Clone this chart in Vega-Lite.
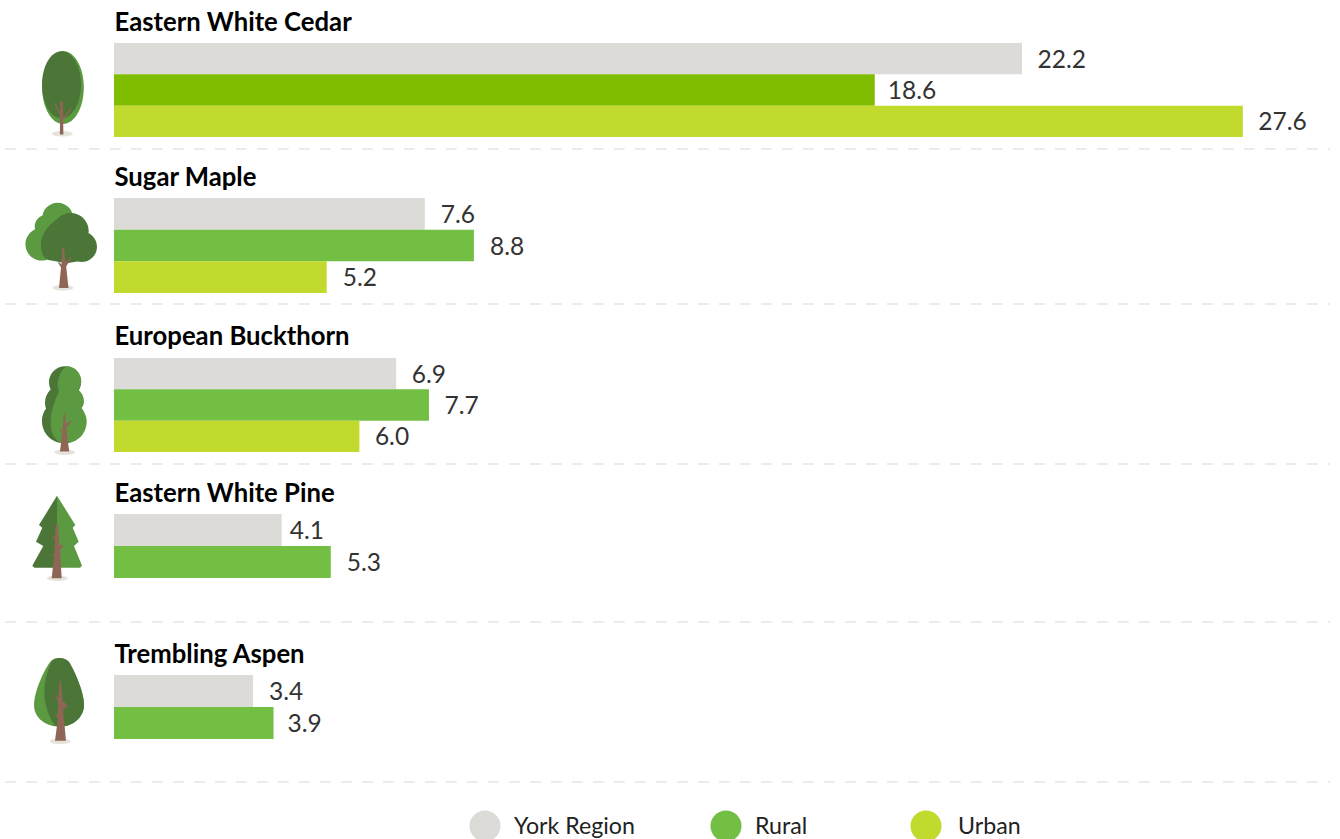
{"$schema":"https://vega.github.io/schema/vega-lite/v6.json","padding":0,"bounds":"flush","spacing":0,"background":"white",
"resolve":{"scale":{"color":"independent"}},
"config":{"view":{"stroke":null},"axis":{"disable":true},"legend":{"disable":true},"text":{"font":"Lato"}},
"datasets":{"bars":[
{"species":"Eastern White Cedar","series":"York Region","value":22.2},{"species":"Eastern White Cedar","series":"Rural","value":18.6},{"species":"Eastern White Cedar","series":"Urban","value":27.6},
{"species":"Sugar Maple","series":"York Region","value":7.6},{"species":"Sugar Maple","series":"Rural","value":8.8},{"species":"Sugar Maple","series":"Urban","value":5.2},
{"species":"European Buckthorn","series":"York Region","value":6.9},{"species":"European Buckthorn","series":"Rural","value":7.7},{"species":"European Buckthorn","series":"Urban","value":6.0},
{"species":"Eastern White Pine","series":"York Region","value":4.1},{"species":"Eastern White Pine","series":"Rural","value":5.3},
{"species":"Trembling Aspen","series":"York Region","value":3.4},{"species":"Trembling Aspen","series":"Rural","value":3.9}],
"legend":[{"series":"York Region"},{"series":"Rural"},{"series":"Urban"}]},
"vconcat":[
{"width":1340,"height":149,"data":{"name":"bars"},"transform":[{"filter":"datum.species=='Eastern White Cedar'"}],
"encoding":{"y":{"field":"series","type":"nominal","scale":{"type":"band","domain":["header","York Region","Rural","Urban","sep"],"range":[11.67,168.33],"paddingInner":0,"paddingOuter":0,"round":false},"sort":null}},
"layer":[
{"mark":{"type":"bar"},"encoding":{"x":{"field":"value","type":"quantitative","scale":{"domain":[-2.7873,29.9756],"nice":false,"zero":false}},"color":{"field":"series","type":"nominal","scale":{"domain":["York Region","Rural","Urban"],"range":["#dcdbd8","#80bc00","#c2d92e"]}}}},
{"transform":[{"filter":"datum.series!='Rural'"}],"mark":{"type":"text","align":"left","baseline":"middle","dx":15.5,"dy":2,"fontSize":24.5,"fill":"#333333"},"encoding":{"x":{"field":"value","type":"quantitative"},"text":{"field":"value","type":"quantitative","format":".1f"}}},
{"transform":[{"filter":"datum.series=='Rural'"}],"mark":{"type":"text","align":"left","baseline":"middle","dx":13,"dy":2,"fontSize":24.5,"fill":"#333333"},"encoding":{"x":{"field":"value","type":"quantitative"},"text":{"field":"value","type":"quantitative","format":".1f"}}},
{"transform":[{"filter":"datum.series=='York Region'"}],"mark":{"type":"text","align":"left","baseline":"middle","dx":0.5,"yOffset":-4,"fontSize":25.7,"fontWeight":"bold","fill":"#000000"},"encoding":{"x":{"datum":0,"type":"quantitative"},"y":{"datum":"header","type":"nominal"},"text":{"field":"species"}}},
{"transform":[{"filter":"datum.series=='York Region'"}],"mark":{"type":"rule","stroke":"#d9d8d4","strokeWidth":1.2,"strokeDash":[10.7,10.3],"yOffset":-3.67},"encoding":{"x":{"datum":-2.665,"type":"quantitative"},"x2":{"datum":29.73},"y":{"datum":"sep","type":"nominal"}}},
{"transform":[{"filter":"datum.series=='Rural'"}],"mark":{"type":"point","filled":true,"size":4,"opacity":1,"strokeWidth":0,"fill":"#e5e3dc","shape":"M-11.2,43.7a10.5,2.7 0 1 0 21,0a10.5,2.7 0 1 0 -21,0Z"},"encoding":{"x":{"datum":-1.247,"type":"quantitative"},"y":{"datum":"Rural","type":"nominal"}}},
{"transform":[{"filter":"datum.series=='Rural'"}],"mark":{"type":"point","filled":true,"size":4,"opacity":1,"strokeWidth":0,"fill":"#5b9a41","shape":"M-20.8,-2.5A20.8,36.5 0 1 1 20.8,-2.5A20.8,36.5 0 1 1 -20.8,-2.5Z"},"encoding":{"x":{"datum":-1.247,"type":"quantitative"},"y":{"datum":"Rural","type":"nominal"}}},
{"transform":[{"filter":"datum.series=='Rural'"}],"mark":{"type":"point","filled":true,"size":4,"opacity":1,"strokeWidth":0,"fill":"#4b7638","shape":"M-21,-5.3A19.5,33.5 0 1 1 18,-5.3A19.5,33.5 0 1 1 -21,-5.3Z"},"encoding":{"x":{"datum":-1.247,"type":"quantitative"},"y":{"datum":"Rural","type":"nominal"}}},
{"transform":[{"filter":"datum.series=='Rural'"}],"mark":{"type":"point","filled":true,"size":4,"opacity":1,"strokeWidth":0,"fill":"#8f6555","shape":"M-2.8,11L-0.1,11L0.4,44.5L-3.1,44.5ZM-2.5,26.5L-9,13.3L-8,12.5L-2.5,23.5ZM-0.3,27.5L7.7,18.3L8.8,19.1L-0.3,30.5Z"},"encoding":{"x":{"datum":-1.247,"type":"quantitative"},"y":{"datum":"Rural","type":"nominal"}}}
]},
{"width":1340,"height":155,"data":{"name":"bars"},"transform":[{"filter":"datum.species=='Sugar Maple'"}],
"encoding":{"y":{"field":"series","type":"nominal","scale":{"type":"band","domain":["header","York Region","Rural","Urban","sep"],"range":[17.33,175.67],"paddingInner":0,"paddingOuter":0,"round":false},"sort":null}},
"layer":[
{"mark":{"type":"bar"},"encoding":{"x":{"field":"value","type":"quantitative","scale":{"domain":[-2.7873,29.9756],"nice":false,"zero":false}},"color":{"field":"series","type":"nominal","scale":{"domain":["York Region","Rural","Urban"],"range":["#dcdbd8","#72bf44","#c2d92e"]}}}},
{"mark":{"type":"text","align":"left","baseline":"middle","dx":16,"dy":2,"fontSize":24.5,"fill":"#333333"},"encoding":{"x":{"field":"value","type":"quantitative"},"text":{"field":"value","type":"quantitative","format":".1f"}}},
{"transform":[{"filter":"datum.series=='York Region'"}],"mark":{"type":"text","align":"left","baseline":"middle","dx":0.5,"yOffset":-4,"fontSize":25.7,"fontWeight":"bold","fill":"#000000"},"encoding":{"x":{"datum":0,"type":"quantitative"},"y":{"datum":"header","type":"nominal"},"text":{"field":"species"}}},
{"transform":[{"filter":"datum.series=='York Region'"}],"mark":{"type":"rule","stroke":"#d9d8d4","strokeWidth":1.2,"strokeDash":[10.7,10.3],"yOffset":-4.83},"encoding":{"x":{"datum":-2.665,"type":"quantitative"},"x2":{"datum":29.73},"y":{"datum":"sep","type":"nominal"}}},
{"transform":[{"filter":"datum.series=='Rural'"}],"mark":{"type":"point","filled":true,"size":4,"opacity":1,"strokeWidth":0,"fill":"#e5e3dc","shape":"M-10.5,42.2a10.5,2.8 0 1 0 21,0a10.5,2.8 0 1 0 -21,0Z"},"encoding":{"x":{"datum":-1.247,"type":"quantitative"},"y":{"datum":"Rural","type":"nominal"}}},
{"transform":[{"filter":"datum.series=='Rural'"}],"mark":{"type":"point","filled":true,"size":4,"opacity":1,"strokeWidth":0,"fill":"#5b9a41","shape":"M-20.8,-27.2a15.5,15.5 0 1 1 31,0a15.5,15.5 0 1 1 -31,0ZM-28.3,-18.8a12,12 0 1 1 24,0a12,12 0 1 1 -24,0ZM-37.6,-1.2a16.3,16.3 0 1 1 32.6,0a16.3,16.3 0 1 1 -32.6,0ZM-23,-5a18,18 0 1 1 36,0a18,18 0 1 1 -36,0Z"},"encoding":{"x":{"datum":-1.247,"type":"quantitative"},"y":{"datum":"Rural","type":"nominal"}}},
{"transform":[{"filter":"datum.series=='Rural'"}],"mark":{"type":"point","filled":true,"size":4,"opacity":1,"strokeWidth":0,"fill":"#4b7638","shape":"M-10.3,-14.5a18,18 0 1 1 36,0a18,18 0 1 1 -36,0ZM3.4,1.2a15.3,15.3 0 1 1 30.6,0a15.3,15.3 0 1 1 -30.6,0ZM6,-32L20,-10L20,15L3.7,17.8L-14.7,14.5C-19,13 -21.5,8 -22,1.2C-23,-12 -12,-26 6,-32Z"},"encoding":{"x":{"datum":-1.247,"type":"quantitative"},"y":{"datum":"Rural","type":"nominal"}}},
{"transform":[{"filter":"datum.series=='Rural'"}],"mark":{"type":"point","filled":true,"size":4,"opacity":1,"strokeWidth":0,"fill":"#8f6555","shape":"M-0.7,2L1,2L2.6,17L8,11L8.8,12L3.2,21L5.5,42.5L-4,42.5L-2,22L-5,17L-4,16.5L-1.6,19Z"},"encoding":{"x":{"datum":-1.247,"type":"quantitative"},"y":{"datum":"Rural","type":"nominal"}}}
]},
{"width":1340,"height":160,"data":{"name":"bars"},"transform":[{"filter":"datum.species=='European Buckthorn'"}],
"encoding":{"y":{"field":"series","type":"nominal","scale":{"type":"band","domain":["header","York Region","Rural","Urban","sep"],"range":[22.67,179.33],"paddingInner":0,"paddingOuter":0,"round":false},"sort":null}},
"layer":[
{"mark":{"type":"bar"},"encoding":{"x":{"field":"value","type":"quantitative","scale":{"domain":[-2.7873,29.9756],"nice":false,"zero":false}},"color":{"field":"series","type":"nominal","scale":{"domain":["York Region","Rural","Urban"],"range":["#dcdbd8","#72bf44","#c2d92e"]}}}},
{"mark":{"type":"text","align":"left","baseline":"middle","dx":15.5,"dy":2,"fontSize":24.5,"fill":"#333333"},"encoding":{"x":{"field":"value","type":"quantitative"},"text":{"field":"value","type":"quantitative","format":".1f"}}},
{"transform":[{"filter":"datum.series=='York Region'"}],"mark":{"type":"text","align":"left","baseline":"middle","dx":0.5,"yOffset":-5,"fontSize":25.7,"fontWeight":"bold","fill":"#000000"},"encoding":{"x":{"datum":0,"type":"quantitative"},"y":{"datum":"header","type":"nominal"},"text":{"field":"species"}}},
{"transform":[{"filter":"datum.series=='York Region'"}],"mark":{"type":"rule","stroke":"#d9d8d4","strokeWidth":1.2,"strokeDash":[10.7,10.3],"yOffset":-3.67},"encoding":{"x":{"datum":-2.665,"type":"quantitative"},"x2":{"datum":29.73},"y":{"datum":"sep","type":"nominal"}}},
{"transform":[{"filter":"datum.series=='Rural'"}],"mark":{"type":"point","filled":true,"size":4,"opacity":1,"strokeWidth":0,"fill":"#e5e3dc","shape":"M-8.8,47.2a10.5,2.7 0 1 0 21,0a10.5,2.7 0 1 0 -21,0Z"},"encoding":{"x":{"datum":-1.247,"type":"quantitative"},"y":{"datum":"Rural","type":"nominal"}}},
{"transform":[{"filter":"datum.series=='Rural'"}],"mark":{"type":"point","filled":true,"size":4,"opacity":1,"strokeWidth":0,"fill":"#4b7638","shape":"M-14,-22.8a16,16 0 1 1 32,0a16,16 0 1 1 -32,0ZM-18,-2.2a18.3,18.3 0 1 1 36.6,0a18.3,18.3 0 1 1 -36.6,0ZM-21,16.2a22,22 0 1 1 44,0a22,22 0 1 1 -44,0Z"},"encoding":{"x":{"datum":-1.247,"type":"quantitative"},"y":{"datum":"Rural","type":"nominal"}}},
{"transform":[{"filter":"datum.series=='Rural'"}],"mark":{"type":"point","filled":true,"size":4,"opacity":1,"strokeWidth":0,"fill":"#5b9a41","shape":"M3.7,-38.8C12,-38.8 18.3,-32 18.3,-23.8C18.3,-20 17,-18 15.3,-15.5C19,-12 21,-8 21,-3.8C21,-1 20,1.5 18,3.8C21.5,7 23.7,11 23.7,16.2C23.7,29 14,38.5 1,38.5C-1,38.5 -3,37.5 -4.7,36.2C-10,32 -12.3,26 -12.3,19.5C-12.3,13 -12,8 -10.7,4.5C-9,-2 -6,-9 -4,-13.8C-5.5,-18 -5.7,-21.5 -4.7,-25.5C-3,-32 0,-37 3.7,-38.8Z"},"encoding":{"x":{"datum":-1.247,"type":"quantitative"},"y":{"datum":"Rural","type":"nominal"}}},
{"transform":[{"filter":"datum.series=='Rural'"}],"mark":{"type":"point","filled":true,"size":4,"opacity":1,"strokeWidth":0,"fill":"#8f6555","shape":"M0.7,8.5L2,8.5L3,19L8,15.5L8.6,16.5L3.3,23L6.2,46.5L-3,46.5L-0.8,28L-3.8,24.5L-3,24L-0.5,26Z"},"encoding":{"x":{"datum":-1.247,"type":"quantitative"},"y":{"datum":"Rural","type":"nominal"}}}
]},
{"width":1340,"height":158,"data":{"name":"bars"},"transform":[{"filter":"datum.species=='Eastern White Pine'"}],
"encoding":{"y":{"field":"series","type":"nominal","scale":{"type":"band","domain":["header","York Region","Rural","Urban","sep"],"range":[18,178],"paddingInner":0,"paddingOuter":0,"round":false},"sort":null}},
"layer":[
{"mark":{"type":"bar"},"encoding":{"x":{"field":"value","type":"quantitative","scale":{"domain":[-2.7873,29.9756],"nice":false,"zero":false}},"color":{"field":"series","type":"nominal","scale":{"domain":["York Region","Rural","Urban"],"range":["#dcdbd8","#72bf44","#c2d92e"]}}}},
{"transform":[{"filter":"datum.series=='York Region'"}],"mark":{"type":"text","align":"left","baseline":"middle","dx":8,"dy":1.5,"fontSize":24.5,"fill":"#333333"},"encoding":{"x":{"field":"value","type":"quantitative"},"text":{"field":"value","type":"quantitative","format":".1f"}}},
{"transform":[{"filter":"datum.series=='Rural'"}],"mark":{"type":"text","align":"left","baseline":"middle","dx":16,"dy":1.5,"fontSize":24.5,"fill":"#333333"},"encoding":{"x":{"field":"value","type":"quantitative"},"text":{"field":"value","type":"quantitative","format":".1f"}}},
{"transform":[{"filter":"datum.series=='York Region'"}],"mark":{"type":"text","align":"left","baseline":"middle","dx":0.5,"yOffset":-4,"fontSize":25.7,"fontWeight":"bold","fill":"#000000"},"encoding":{"x":{"datum":0,"type":"quantitative"},"y":{"datum":"header","type":"nominal"},"text":{"field":"species"}}},
{"transform":[{"filter":"datum.series=='York Region'"}],"mark":{"type":"rule","stroke":"#d9d8d4","strokeWidth":1.2,"strokeDash":[10.7,10.3],"yOffset":-4},"encoding":{"x":{"datum":-2.665,"type":"quantitative"},"x2":{"datum":29.73},"y":{"datum":"sep","type":"nominal"}}},
{"transform":[{"filter":"datum.series=='Rural'"}],"mark":{"type":"point","filled":true,"size":4,"opacity":1,"strokeWidth":0,"fill":"#e5e3dc","shape":"M-16.2,16.3a10.5,2.7 0 1 0 21,0a10.5,2.7 0 1 0 -21,0Z"},"encoding":{"x":{"datum":-1.247,"type":"quantitative"},"y":{"datum":"Rural","type":"nominal"}}},
{"transform":[{"filter":"datum.series=='Rural'"}],"mark":{"type":"point","filled":true,"size":4,"opacity":1,"strokeWidth":0,"fill":"#4b7638","shape":"M-6,-66.3L-24,-37L-20.7,-34.3L-27,-20.3L-19.7,-16L-30.7,3.7L-28.7,5.7L-6,5.7Z"},"encoding":{"x":{"datum":-1.247,"type":"quantitative"},"y":{"datum":"Rural","type":"nominal"}}},
{"transform":[{"filter":"datum.series=='Rural'"}],"mark":{"type":"point","filled":true,"size":4,"opacity":1,"strokeWidth":0,"fill":"#5b9a41","shape":"M-6,-66.3L12.3,-37L9.7,-34.3L15.7,-20.3L11,-16L19,3.7L17,5.7L-6,5.7Z"},"encoding":{"x":{"datum":-1.247,"type":"quantitative"},"y":{"datum":"Rural","type":"nominal"}}},
{"transform":[{"filter":"datum.series=='Rural'"}],"mark":{"type":"point","filled":true,"size":4,"opacity":1,"strokeWidth":0,"fill":"#8f6555","shape":"M-7,-38.7L-5.2,-38.7L-3.7,-17L0.7,-16.5L-3,-12L-1.3,16.3L-11.3,16.3L-9,-5L-11.5,-8L-8.8,-7.5L-8,-22L-12,-26L-8,-25Z"},"encoding":{"x":{"datum":-1.247,"type":"quantitative"},"y":{"datum":"Rural","type":"nominal"}}}
]},
{"width":1340,"height":160,"data":{"name":"bars"},"transform":[{"filter":"datum.species=='Trembling Aspen'"}],
"encoding":{"y":{"field":"series","type":"nominal","scale":{"type":"band","domain":["header","York Region","Rural","Urban","sep"],"range":[21,181],"paddingInner":0,"paddingOuter":0,"round":false},"sort":null}},
"layer":[
{"mark":{"type":"bar"},"encoding":{"x":{"field":"value","type":"quantitative","scale":{"domain":[-2.7873,29.9756],"nice":false,"zero":false}},"color":{"field":"series","type":"nominal","scale":{"domain":["York Region","Rural","Urban"],"range":["#dcdbd8","#72bf44","#c2d92e"]}}}},
{"transform":[{"filter":"datum.series=='York Region'"}],"mark":{"type":"text","align":"left","baseline":"middle","dx":16,"dy":1.5,"fontSize":24.5,"fill":"#333333"},"encoding":{"x":{"field":"value","type":"quantitative"},"text":{"field":"value","type":"quantitative","format":".1f"}}},
{"transform":[{"filter":"datum.series=='Rural'"}],"mark":{"type":"text","align":"left","baseline":"middle","dx":14,"dy":1.5,"fontSize":24.5,"fill":"#333333"},"encoding":{"x":{"field":"value","type":"quantitative"},"text":{"field":"value","type":"quantitative","format":".1f"}}},
{"transform":[{"filter":"datum.series=='York Region'"}],"mark":{"type":"text","align":"left","baseline":"middle","dx":0.5,"yOffset":-4,"fontSize":25.7,"fontWeight":"bold","fill":"#000000"},"encoding":{"x":{"datum":0,"type":"quantitative"},"y":{"datum":"header","type":"nominal"},"text":{"field":"species"}}},
{"transform":[{"filter":"datum.series=='York Region'"}],"mark":{"type":"rule","stroke":"#d9d8d4","strokeWidth":1.2,"strokeDash":[10.7,10.3],"yOffset":-5},"encoding":{"x":{"datum":-2.665,"type":"quantitative"},"x2":{"datum":29.73},"y":{"datum":"sep","type":"nominal"}}},
{"transform":[{"filter":"datum.series=='Rural'"}],"mark":{"type":"point","filled":true,"size":4,"opacity":1,"strokeWidth":0,"fill":"#e5e3dc","shape":"M-13.2,18.3a10.5,2.7 0 1 0 21,0a10.5,2.7 0 1 0 -21,0Z"},"encoding":{"x":{"datum":-1.247,"type":"quantitative"},"y":{"datum":"Rural","type":"nominal"}}},
{"transform":[{"filter":"datum.series=='Rural'"}],"mark":{"type":"point","filled":true,"size":4,"opacity":1,"strokeWidth":0,"fill":"#5b9a41","shape":"M-3,-65C-8,-65 -10,-64 -12,-62C-18,-55 -29,-32 -29,-18C-29,-4 -16,3.7 -3,3.7C10,3.7 21,-6 21,-18C21,-32 10,-55 6,-61C3,-64 0,-65 -3,-65Z"},"encoding":{"x":{"datum":-1.247,"type":"quantitative"},"y":{"datum":"Rural","type":"nominal"}}},
{"transform":[{"filter":"datum.series=='Rural'"}],"mark":{"type":"point","filled":true,"size":4,"opacity":1,"strokeWidth":0,"fill":"#4b7638","shape":"M-3,-65C-6,-65 -9,-64 -11,-62C-15,-55 -18.7,-42 -18.7,-31C-18.7,-18 -14,-6 -8,3L-3,3.7C10,3.7 21,-6 21,-18C21,-32 10,-55 6,-61C3,-64 0,-65 -3,-65Z"},"encoding":{"x":{"datum":-1.247,"type":"quantitative"},"y":{"datum":"Rural","type":"nominal"}}},
{"transform":[{"filter":"datum.series=='Rural'"}],"mark":{"type":"point","filled":true,"size":4,"opacity":1,"strokeWidth":0,"fill":"#8f6555","shape":"M-3.5,-42.3L-2,-42.3L-0.5,-22L5,-17.5L0,-13L3,17.7L-8,17.7L-5,-5L-9,-8.5L-5.2,-8L-4.8,-22L-9,-28L-4.5,-25Z"},"encoding":{"x":{"datum":-1.247,"type":"quantitative"},"y":{"datum":"Rural","type":"nominal"}}}
]},
{"width":1340,"height":57,"data":{"name":"legend"},
"encoding":{"y":{"datum":"legend","type":"nominal","scale":{"type":"band","domain":["legend"],"range":[30,58],"paddingInner":0,"paddingOuter":0,"round":false}}},
"layer":[
{"transform":[{"filter":"datum.series=='York Region'"}],"mark":{"type":"circle","size":961,"opacity":1},"encoding":{"x":{"datum":9.071,"type":"quantitative","scale":{"domain":[-2.7873,29.9756],"nice":false,"zero":false}},"color":{"field":"series","type":"nominal","scale":{"domain":["York Region","Rural","Urban"],"range":["#dcdbd8","#72bf44","#c2d92e"]}}}},
{"transform":[{"filter":"datum.series=='Rural'"}],"mark":{"type":"circle","size":961,"opacity":1},"encoding":{"x":{"datum":14.963,"type":"quantitative"},"color":{"field":"series","type":"nominal"}}},
{"transform":[{"filter":"datum.series=='Urban'"}],"mark":{"type":"circle","size":961,"opacity":1},"encoding":{"x":{"datum":19.853,"type":"quantitative"},"color":{"field":"series","type":"nominal"}}},
{"transform":[{"filter":"datum.series=='York Region'"}],"mark":{"type":"text","align":"left","baseline":"middle","dy":1,"fontSize":23.2,"fill":"#222222"},"encoding":{"x":{"datum":9.78,"type":"quantitative"},"text":{"field":"series"}}},
{"transform":[{"filter":"datum.series=='Rural'"}],"mark":{"type":"text","align":"left","baseline":"middle","dy":1,"fontSize":23.2,"fill":"#222222"},"encoding":{"x":{"datum":15.672,"type":"quantitative"},"text":{"field":"series"}}},
{"transform":[{"filter":"datum.series=='Urban'"}],"mark":{"type":"text","align":"left","baseline":"middle","dy":1,"fontSize":23.2,"fill":"#222222"},"encoding":{"x":{"datum":20.636,"type":"quantitative"},"text":{"field":"series"}}}
]}
]}
